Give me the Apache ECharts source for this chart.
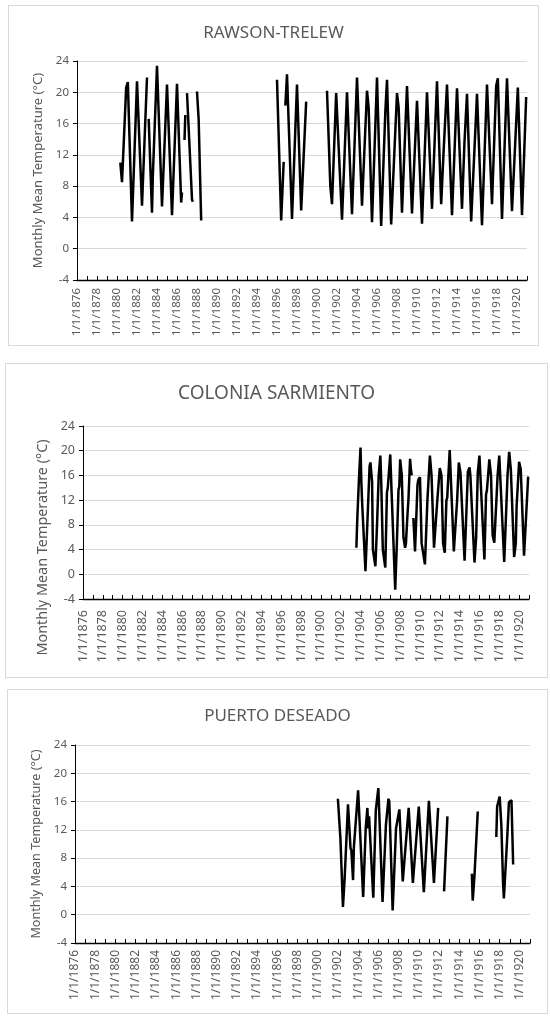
<!DOCTYPE html>
<html>
<head>
<meta charset="utf-8">
<script src="https://cdn.jsdelivr.net/npm/echarts@6/dist/echarts.min.js"></script>
<style>
  body { margin: 0; background: #fff; }
  .panel { position: absolute; box-sizing: border-box; border: 1px solid #d9d9d9; background: #fff; }
</style>
</head>
<body>
<div id="p1" class="panel" style="left:8px;top:5px;width:531px;height:341px"></div>
<div id="p2" class="panel" style="left:5px;top:363px;width:543px;height:315px"></div>
<div id="p3" class="panel" style="left:7px;top:689px;width:541px;height:325px"></div>
<script>
// monthly mean temperature (null = gap in record)
const rawsonMonths = [
  '1880-05','1880-07','1880-12','1881-02','1881-07','1882-01','1882-07','1883-01','1883-02',
  '1883-03','1883-07','1883-08','1884-01','1884-07','1885-01','1885-07','1886-01','1886-06','1886-07','1886-08',
  '1886-10','1886-11','1886-12',
  '1887-01','1887-03','1887-05','1887-07','1887-08','1887-09',
  '1888-01','1888-03','1888-06','1888-07',
  '1896-01','1896-06','1896-09','1896-10',
  '1896-11','1897-01','1897-07','1898-01','1898-06','1898-08','1898-12','1899-01',
  '1901-01','1901-05','1901-07','1901-12','1902-07','1903-01','1903-07','1904-01','1904-07',
  '1905-01','1905-03','1905-07','1906-01','1906-06','1906-11','1907-01','1907-06','1908-01','1908-03','1908-07',
  '1909-01','1909-07','1910-01','1910-07','1911-01','1911-07','1912-01','1912-06','1912-09','1913-01','1913-07',
  '1914-01','1914-07','1914-10','1915-01','1915-06','1916-01','1916-07','1917-01','1917-07','1917-12','1918-02',
  '1918-07','1919-01','1919-07','1920-02','1920-07','1920-12'
];
const rawsonTemps = [
  11.0, 8.5, 20.6, 21.3, 3.5, 21.4, 5.5, 21.9, null,
  16.6, 4.6, 9.3, 23.4, 5.4, 21.0, 4.3, 21.1, 5.9, 7.2, null,
  13.9, 17.1, null,
  19.9, 19.8, 10.9, 6.3, 6.0, null,
  20.1, 16.5, 3.6, null,
  21.6, 3.6, 11.1, null,
  18.3, 22.3, 3.8, 21.0, 4.9, 4.9, 18.8, null,
  20.2, 8.0, 5.7, 19.9, 3.7, 20.0, 4.4, 21.9, 5.5,
  20.2, 18.0, 3.4, 21.9, 2.9, 17.5, 21.6, 3.1, 19.9, 18.0, 4.6,
  20.8, 4.5, 18.9, 3.2, 20.0, 5.1, 21.4, 5.7, 12.6, 21.0, 4.3,
  20.5, 5.1, 13.7, 19.8, 3.5, 19.8, 3.0, 21.0, 5.7, 20.8, 21.8,
  3.8, 21.8, 4.8, 20.6, 4.3, 19.4
];

const sarmientoMonths = [
  '1903-08','1903-09','1903-11','1904-01','1904-02','1904-03','1904-07','1904-10','1904-12','1905-01',
  '1905-03','1905-04','1905-07','1905-09','1905-11','1905-12','1906-01','1906-02','1906-04','1906-07',
  '1906-09','1906-10','1906-12','1907-01','1907-03','1907-07','1907-09','1907-11','1907-12','1908-01',
  '1908-03','1908-05','1908-07','1908-08','1908-10','1908-11','1909-01','1909-02','1909-03','1909-04',
  '1909-05','1909-07','1909-10','1909-11','1910-01','1910-03','1910-07','1910-10','1911-01','1911-03',
  '1911-06','1911-07','1911-10','1912-01','1912-03','1912-05','1912-07','1912-09','1912-10','1913-01',
  '1913-06','1913-09','1913-10','1913-12','1914-01','1914-02','1914-07','1914-11','1915-01','1915-02',
  '1915-07','1915-09','1915-11','1916-01','1916-07','1916-09','1916-10','1917-01','1917-03','1917-05',
  '1917-07','1917-11','1918-01','1918-07','1918-11','1919-01','1919-03','1919-07','1919-09','1919-10',
  '1920-01','1920-03','1920-07','1920-12'
];
const sarmientoTemps = [
  4.3, 8.6, 15.1, 20.5, 15.0, 11.5, 0.5, 10.7, 17.5, 18.1,
  15.0, 4.0, 1.3, 8.0, 15.9, 16.0, 19.2, 15.5, 4.0, 1.1,
  13.3, 14.0, 14.0, 19.4, 12.0, -2.5, 5.0, 13.7, 14.2, 18.6,
  16.0, 6.0, 4.3, 5.0, 10.0, 12.0, 18.7, 17.0, 16.0, null,
  9.1, 3.7, 14.5, 15.3, 15.7, 5.0, 1.6, 12.0, 19.2, 16.0,
  4.3, 4.5, 12.0, 17.2, 16.0, 5.0, 3.5, 12.0, 12.4, 20.1,
  3.7, 10.0, 12.0, 18.1, 17.3, 16.5, 2.2, 16.6, 17.3, 16.0,
  1.9, 6.0, 16.5, 19.2, 2.4, 13.0, 13.5, 18.6, 16.0, 6.3,
  5.1, 16.0, 19.2, 2.0, 16.0, 19.8, 17.0, 2.8, 5.0, 11.0,
  18.2, 17.0, 3.0, 15.8
];

const deseadoMonths = [
  '1902-01','1902-04','1902-07','1902-09','1903-01','1903-04','1903-05','1903-07','1903-08','1903-09',
  '1904-01','1904-07','1904-10','1904-12','1905-01','1905-02','1905-07','1905-10','1906-01','1906-06',
  '1906-10','1907-01','1907-02','1907-06','1907-10','1908-02','1908-06','1909-01','1909-06','1910-01',
  '1910-07','1911-01','1911-07','1911-12','1912-01',
  '1912-07','1912-11','1912-12',
  '1915-04','1915-05','1915-07','1915-11','1915-12',
  '1917-09','1917-10','1918-01','1918-03','1918-05','1918-06','1918-10','1918-12','1919-03','1919-05'
];
const deseadoTemps = [
  16.4, 10.8, 1.1, 5.1, 15.6, 9.4, 9.1, 4.9, 9.6, 9.4,
  17.6, 2.5, 12.2, 15.1, 12.2, 13.9, 2.4, 14.8, 17.9, 1.8,
  12.7, 16.4, 16.0, 0.6, 12.2, 14.9, 4.7, 15.1, 4.5, 15.3,
  3.2, 16.1, 4.5, 15.1, null,
  3.3, 13.9, null,
  5.8, 2.0, 5.3, 14.6, null,
  11.0, 15.3, 16.7, 12.7, 4.6, 2.3, 11.0, 15.9, 16.2, 7.1
];

const yTicks = { min: -4, max: 24, interval: 4 };
const yearMin = 1876;
const yearMax = 1921;

function toYear(m) {
  return +m.slice(0, 4) + (+m.slice(5, 7) - 1) / 12;
}

function makeChart(id, title, months, temps, s) {
  const chart = echarts.init(document.getElementById(id));
  const grey = '#595959';
  const font = '"Noto Sans", sans-serif';
  chart.setOption({
    animation: false,
    title: {
      text: title,
      left: 'center',
      top: s.titleTop,
      textStyle: { color: grey, fontSize: s.titleSize, fontWeight: 'normal', fontFamily: font }
    },
    grid: { left: s.left, top: s.top, width: s.width, height: s.height },
    xAxis: {
      type: 'value',
      min: yearMin,
      max: yearMax,
      interval: 1,
      axisLine: { onZero: false, lineStyle: { color: '#000', width: 1.3 } },
      axisTick: { inside: true, length: 4, lineStyle: { color: '#000' } },
      splitLine: { show: false },
      axisLabel: {
        rotate: 90,
        margin: s.labelMargin,
        color: grey,
        fontSize: s.xLabelSize,
        fontFamily: font,
        formatter: v => (v % 2 === 0 ? '1/1/' + v : '')
      }
    },
    yAxis: {
      type: 'value',
      min: yTicks.min,
      max: yTicks.max,
      interval: yTicks.interval,
      name: 'Monthly Mean Temperature (°C)',
      nameLocation: 'middle',
      nameGap: s.nameGap,
      nameTextStyle: { color: grey, fontSize: s.nameSize, fontFamily: font, padding: s.namePad },
      axisLine: { show: true, lineStyle: { color: '#000', width: 1 } },
      axisTick: { show: true, length: 4, lineStyle: { color: '#000' } },
      splitLine: { lineStyle: { color: '#d9d9d9', width: 1 } },
      axisLabel: { color: grey, fontSize: s.yLabelSize, fontFamily: font, margin: 8 }
    },
    series: [{
      type: 'line',
      data: months.map((m, i) => [toYear(m), temps[i]]),
      showSymbol: false,
      connectNulls: false,
      lineStyle: { color: '#000', width: 2.5 },
      itemStyle: { color: '#000' }
    }]
  });
}

makeChart('p1', 'RAWSON-TRELEW', rawsonMonths, rawsonTemps, {
  titleTop: 14, titleSize: 17, left: 68, top: 55, width: 450, height: 219,
  labelMargin: 8, xLabelSize: 11.5, yLabelSize: 11.5, nameGap: 30, nameSize: 13, namePad: 0
});
makeChart('p2', 'COLONIA SARMIENTO', sarmientoMonths, sarmientoTemps, {
  titleTop: 15, titleSize: 19, left: 77, top: 62, width: 446, height: 173,
  labelMargin: 11, xLabelSize: 12.5, yLabelSize: 12.5, nameGap: 33, nameSize: 14.4, namePad: [0, 70, 0, 0]
});
makeChart('p3', 'PUERTO DESEADO', deseadoMonths, deseadoTemps, {
  titleTop: 13, titleSize: 17, left: 67, top: 55, width: 455, height: 198,
  labelMargin: 7, xLabelSize: 12, yLabelSize: 11.5, nameGap: 32, nameSize: 12.6, namePad: 0
});
</script>
</body>
</html>
